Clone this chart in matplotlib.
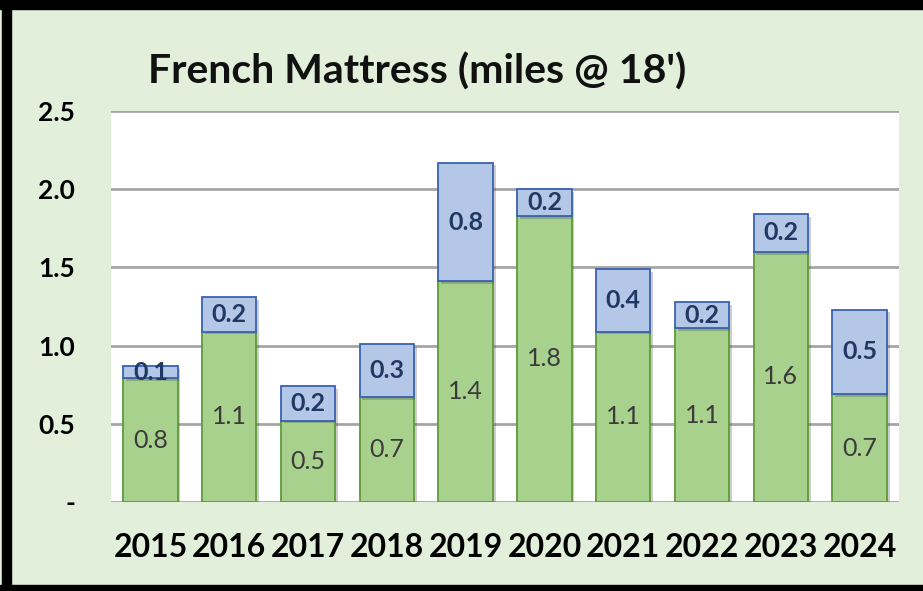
import matplotlib.pyplot as plt
import matplotlib.patheffects as pe
from matplotlib.patches import Rectangle

years = ['2015', '2016', '2017', '2018', '2019', '2020', '2021', '2022', '2023', '2024']
green_vals = [0.79, 1.09, 0.52, 0.67, 1.41, 1.83, 1.09, 1.11, 1.60, 0.69]
blue_vals = [0.08, 0.22, 0.22, 0.34, 0.76, 0.17, 0.40, 0.17, 0.24, 0.54]
yticks = [0, 0.5, 1.0, 1.5, 2.0, 2.5]
ytick_labels = ['-', '0.5', '1.0', '1.5', '2.0', '2.5']
title = "French Mattress (miles @ 18')"

plt.rcParams['font.family'] = ['Lato', 'DejaVu Sans']

bg = '#e2efda'
fig = plt.figure(figsize=(9.23, 5.91), dpi=100, facecolor=bg)
ax = fig.add_axes([111 / 923, 89 / 591, 788 / 923, 391 / 591])
ax.set_facecolor('white')

x = range(len(years))
shadow = [pe.SimplePatchShadow(offset=(2, -2), alpha=0.25), pe.Normal()]
gb = ax.bar(x, green_vals, width=0.69, color='#a9d18e', edgecolor='#5e9a3a',
            linewidth=1.3, zorder=3, path_effects=shadow)
bb = ax.bar(x, blue_vals, width=0.69, bottom=green_vals, color='#b4c7e7',
            edgecolor='#3a62b0', linewidth=1.3, zorder=3, path_effects=shadow)

for i in x:
    ax.text(i, green_vals[i] / 2, '%.1f' % green_vals[i], ha='center', va='center',
            fontsize=18, color='#3a3a3a', zorder=5)
    ax.text(i, green_vals[i] + blue_vals[i] / 2, '%.1f' % blue_vals[i], ha='center',
            va='center', fontsize=18, color='#1f3864', fontweight='bold', zorder=5)

ax.set_xlim(-0.5, len(years) - 0.5)
ax.set_ylim(0, 2.5)
ax.set_yticks(yticks)
ax.set_yticklabels(ytick_labels, fontsize=19, fontweight='bold')
ax.set_xticks(list(x))
ax.set_xticklabels(years, fontsize=23, fontweight='bold')
ax.tick_params(axis='both', length=0)
ax.tick_params(axis='y', pad=26)
ax.tick_params(axis='x', pad=22)
ax.grid(axis='y', color='#a6a6a6', linewidth=2, zorder=0)
for s in ax.spines.values():
    s.set_visible(False)

fig.text(148 / 923, 1 - 72 / 591, title, fontsize=29.5, fontweight='bold',
         ha='left', va='center', color='#111111')

# black frame on top, left and bottom
fig.patches.append(Rectangle((0, 1 - 9 / 591), 1, 9 / 591, transform=fig.transFigure,
                             color='black', zorder=10))
fig.patches.append(Rectangle((2 / 923, 0), 9 / 923, 1, transform=fig.transFigure,
                             color='black', zorder=10))
fig.patches.append(Rectangle((0, 0), 1, 6 / 591, transform=fig.transFigure,
                             color='black', zorder=10))

fig.savefig('out.png', dpi=100, facecolor=bg)
